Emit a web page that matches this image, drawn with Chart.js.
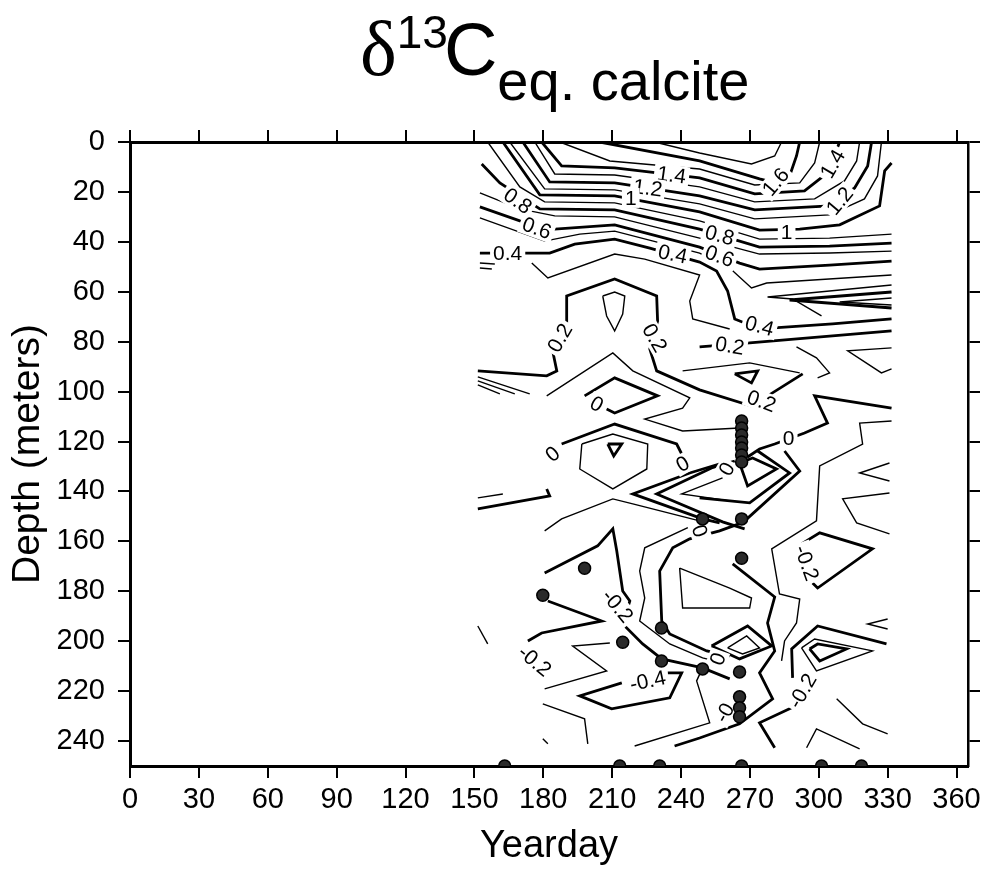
<!DOCTYPE html>
<html>
<head>
<meta charset="utf-8">
<title>d13C eq. calcite</title>
<script src="https://cdn.jsdelivr.net/npm/chart.js@4.4.1/dist/chart.umd.min.js"></script>
<style>
  html, body { margin: 0; padding: 0; background: #fff; }
  #wrap { width: 986px; height: 869px; }
</style>
</head>
<body>
<div id="wrap"><canvas id="chart" width="986" height="869"></canvas></div>
<script>
const xTicks = [0, 30, 60, 90, 120, 150, 180, 210, 240, 270, 300, 330, 360];
const yTicks = [0, 20, 40, 60, 80, 100, 120, 140, 160, 180, 200, 220, 240];

// sampling stations: yearday / depth
const sampleDay = [266.4, 266.4, 266.4, 266.4, 266.4, 266.4, 266.4, 249.4, 266.4, 266.4, 198, 179.8,
  214.6, 231.5, 231.5, 249.4, 265.5, 265.5, 265.5, 265.5, 163.2, 213.3, 230.7, 266.4, 301.2, 318.6];
const sampleDepth = [111.8, 114.6, 117.4, 120.2, 122.6, 125.4, 128.2, 151, 151, 166.8, 170.8, 181.6,
  200.4, 194.7, 207.9, 211.1, 212.3, 222.3, 226.7, 230.3, 250, 250, 250, 250, 250, 250];

// contour lines as [yearday, depth] pairs
// upper layer, labelled levels (thick)
const c16 = [[204.6,0],[248.1,7.6],[274.2,14.8],[281.2,16.4],[287.3,13.6],[290.3,5.6],[291.7,0]];
const c14 = [[179.3,0],[188,9.6],[211.1,10.4],[248.1,14.4],[272.1,20.8],[293.8,19.6],[303.8,12.4],[309.1,0]];
const c12 = [[171.1,0],[182.8,16],[211.1,16.4],[248.1,21.6],[272.1,27.2],[304.7,25.6],[315.6,18.4],[321.3,9.6],[323,0]];
const c10 = [[162.4,0],[178.5,21.2],[211.1,21.6],[248.1,28],[274.2,35.3],[291.7,34.9],[309.1,33.2],[326.5,25.6],[328.7,11.6],[331.7,8.4]];
const c08 = [[153.2,8.8],[161.1,16.4],[178.5,26.8],[211.1,27.2],[248.1,34.9],[274.2,42.1],[304.7,41.7],[331.7,40.5]];
const c06 = [[152.4,26],[169.8,31.6],[185,34.9],[211.1,33.2],[248.1,42.1],[265.5,48.5],[274.2,50.9],[304.7,49.3],[331.7,47.7]];
const c04 = [[152.4,44.5],[182.8,44.5],[193.7,40.9],[211.1,38.9],[226.4,42.5],[248.1,48.1],[255.5,51.7],[260.3,59.7],[263.4,70.9],[274.2,74.9],[306,72.9],[331.7,70.9]];
// upper layer, intermediate levels (thin)
const c17 = [[228.5,0],[248.1,4.4],[270.7,8.8],[280.8,5.6],[283.8,0]];
const c15 = [[187.2,0],[209,7.6],[248.1,10.8],[272.1,17.2],[291.7,16.4],[298.2,8.4],[300.4,0]];
const c13 = [[176.3,0],[185,12.8],[211.1,13.2],[248.1,18],[272.1,24],[298.2,22.8],[311.2,15.6],[316.5,7.6],[317.8,0]];
const c11 = [[165.4,0],[180.6,18.8],[211.1,19.2],[248.1,24.8],[272.1,30.8],[304.7,29.2],[319.9,22.8],[325.6,13.6],[327.3,0]];
const c09 = [[155.8,0],[169.8,18],[180.6,24],[211.1,24.4],[248.1,31.6],[274.2,38.9],[304.7,38.5],[331.7,36.9]];
const c07 = [[152.4,20.4],[169.8,26.8],[185,29.6],[211.1,30],[248.1,38.5],[274.2,44.9],[304.7,44.5],[331.7,43.7]];
const c05 = [[152.4,30.4],[180.6,39.7],[195.9,36.9],[211.1,35.7],[248.1,44.5],[261.2,50.5],[270.7,58.5],[277.3,56.5],[331.7,53.3]];
const c03a = [[152.4,48.5],[158.9,48.9]];
const c03b = [[152.4,50.5],[157.6,50.9]];
const c03c = [[175,48.5],[182,54.5],[211.1,44.9],[224.2,46.9],[248.1,53.3],[243.8,63.7],[245.1,70.9],[261.2,74.9]];
const wedgeA = [[331.7,57.3],[277.7,62.1],[288.6,62.9],[301.2,69.7]];
const wedgeC = [[331.7,62.5],[309.1,64.1],[331.7,65.3]];
// middle layer
const wedgeB = [[331.7,60.1],[287.3,63.3],[331.7,66.5]];
const c02a = [[151.5,91.7],[181.5,93.7],[185.9,91.7],[184.1,83.7],[190.2,72.9],[190.2,61.7],[211.1,54.9],[229.4,61.7],[229.8,71.7],[226.4,82.9],[229.4,91.7],[248.1,99.3],[270.7,105.8],[293,92.9]];
const c02b = [[248.1,82.1],[269.9,80.5],[331.7,75.7]];
const loop03 = [[205.9,61.7],[211.1,60.1],[215.5,61.7],[214.6,68.9],[211.1,75.7],[207.6,69.7],[205.9,61.7]];
const c01a = [[181.5,101.7],[210.3,84.5],[219,91.7],[243.8,102.5],[240.7,106.6],[224.2,111],[240.7,115.8],[265.5,114.6]];
const c03d = [[240.7,91.7],[269.9,88.5],[291.7,92.5]];
const tri1 = [[263.4,92.9],[273.4,91.7],[270.7,96.5],[263.4,92.9]];
const thinA = [[290.3,82.1],[299,86.5],[304.7,92.5],[299.5,94.5]];
const wedgeD = [[331.7,82.5],[312.6,83.7],[327.3,92.5],[331.7,90.9]];
const left1 = [[151.5,94.1],[174.1,100.9]];
const left2 = [[151.5,95.7],[167.6,100.9]];
const left3 = [[151.5,97.3],[161.1,100.9]];
const z1 = [[207.6,107],[211.1,108.6],[229.8,101.7],[211.1,94.5],[198,101.7]];
const z2 = [[188,121],[211.1,113],[238.1,121],[240.3,125]];
const hex = [[196.8,121],[210.3,117],[225.5,121],[225.1,131],[210.3,139],[195.9,131],[196.8,121]];
const tri2 = [[208.1,121],[214.2,121],[210.7,125.8],[208.1,121]];
const s1 = [[151.5,142.6],[162.4,141]];
const s2 = [[151.5,147],[182.8,141.8],[181.5,139]];
const xline = [[180.6,155.8],[188,151],[210.3,143],[219,145],[248.1,151.8]];
const t5 = [[258.1,128.6],[243.8,132.6],[219,141],[249.4,151],[256.8,152.6]];
const t6 = [[263.4,127.8],[253.3,130.6],[229.4,141],[258.1,152.2],[267.7,155]];
const t7 = [[258.1,134.6],[240.3,141],[261.2,143.8]];
const t1 = [[331.7,106.6],[298.2,101.7],[303.8,112.6],[293.8,116.6],[280.8,121],[274.2,123],[269,126.2]];
const t2 = [[285.1,123.8],[291.7,131.8],[266.8,152.6]];
const t3 = [[265.5,128.6],[271.2,126.6],[281.6,131],[269,137.8],[265.5,128.6]];
const t4 = [[248.1,142.6],[269.9,144.6],[287.3,132.6],[273.4,123.8]];
const t10 = [[331.7,111.8],[317.8,112.6],[319.1,121],[300.4,129.8],[299,151.8],[279.5,163],[282.9,181.1],[291.7,183.1],[290.3,192.7],[285.1,199.9],[283.8,207.9]];
const r7 = [[330.8,128.6],[317.8,132.6],[330.8,135.8]];
const r8 = [[330.8,140.6],[310.4,143],[316.5,152.6],[330.8,157]];
const q1 = [[292.5,161],[300.4,156.6],[323.4,163],[299.5,178.7],[297.3,176.7]];
// lower layer
const t9 = [[262.5,169],[280.8,182.3],[277.7,192.7],[280.8,203.9],[274.2,212.7],[279.9,223.1],[265.5,233.1],[248.1,238.8],[237.2,242]];
const t11 = [[239.4,170.7],[261.2,178.7],[270.7,182.7],[269.9,186.7],[240.7,186.7],[239.4,170.7]];
const t12 = [[244.6,153.8],[224.2,162.6],[222,171.9],[224.2,182.7],[222,191.9],[235.1,201.1],[249.4,206.7],[258.1,208.7]];
const t13 = [[266.4,152.6],[256.8,155.8],[243.8,159],[236.4,162.6],[230.7,171.9],[231.6,191.9],[235.1,197.1],[251.2,203.9],[261.2,205.9]];
const m1 = [[180.6,172.7],[203.7,161.8],[210.3,155],[212,163.8],[214.6,179.9],[217.7,183.9],[214.6,193.1],[223.3,201.1],[231.6,207.1],[249.4,210.7],[261.2,215.1]];
const m2 = [[182,183.9],[205.5,191.9],[179.3,196.7],[173.3,199.9]];
const m3 = [[209,200.7],[192.8,201.9],[207.6,211.9],[180.6,219.1]];
const m4 = [[214.2,216.7],[195.9,221.9],[209.8,227.1],[235.1,222.7],[240.3,212.7],[234.2,212.7]];
const m5 = [[179.8,225.1],[198,231.1],[199.4,241.1]];
const m6 = [[179.8,239.1],[182,241.1]];
const m7 = [[151.5,193.9],[155.8,201.1]];
const m8 = [[219.8,242],[252.5,232.7],[246.8,215.9],[249.4,210.7]];
const vee = [[288.2,226.7],[274.2,232.7],[280.8,242.7]];
const r1 = [[288.6,214.7],[288.2,203.1],[299.5,193.9],[329.5,201.1]];
const r2 = [[292.5,202.7],[298.2,199.1],[323.4,203.9],[299,211.9],[292.5,202.7]];
const r3 = [[296,203.1],[299.5,201.1],[312.1,203.1],[300.4,207.9],[296,203.1]];
const r4 = [[307.8,223.1],[319.1,233.1],[330,237.1]];
const r5 = [[294.7,242.7],[299,235.1],[317.8,243.1]];
const r6 = [[330,191.1],[321.3,193.1],[330,195.1]];
const p1 = [[253.3,201.9],[269,193.9],[279.5,201.9],[265.5,207.1],[253.3,201.9]];
const p2 = [[260.3,202.7],[268.6,197.9],[274.2,202.7],[266.8,205.1],[260.3,202.7]];

const thickLines = [c16, c14, c12, c10, c08, c06, c04, wedgeB, c02a, c02b, tri1, z1, z2, tri2, s2,
  t5, t6, t1, t2, t3, t4, q1, t9, t13, m1, m2, m4, vee, r1, r3, p1];
const thinLines = [c17, c15, c13, c11, c09, c07, c05, c03a, c03b, c03c, wedgeA, wedgeC, loop03, c01a,
  c03d, thinA, wedgeD, left1, left2, left3, hex, s1, xline, t7, t10, r7, r8, t11, t12, m3, m5, m6, m7,
  m8, r2, r4, r5, r6, p2];

// contour labels
const labelText  = ['1.4', '1.2', '1', '0.8', '0.6', '0.4', '0.4', '0.8', '0.6', '1', '1.6', '1.4', '1.2',
  '0.4', '0.2', '0.2', '0.2', '0.2', '0', '0', '0', '0', '0', '0', '-0.2', '-0.2', '-0.4', '0', '-0', '-0.2', '-0.2'];
const labelDay   = [235.9, 225.5, 218.1, 168.9, 177.2, 164.5, 236.4, 256.8, 256.8, 286, 281.2, 306, 309.1,
  274.2, 261.2, 187.2, 228.5, 275.1, 203.3, 184.1, 240.7, 286.9, 259.9, 248.1, 212.4, 176.3, 225.5, 256, 259, 292.9, 294.7];
const labelDepth = [13.2, 18.4, 22.4, 23.6, 34.5, 44.5, 44.9, 37.3, 45.7, 36.1, 16, 8.8, 23.6,
  73.7, 81.7, 78.5, 78.5, 103.8, 105, 125, 129, 118.6, 131, 155.8, 185.9, 207.9, 215.9, 207.1, 228.7, 219.9, 168.6];
const labelAngle = [8, 8, 0, 35, 20, 0, 12, 15, 20, 0, -50, -60, -50,
  15, 10, -60, 60, 20, 30, -40, -30, 0, -60, 70, 50, 40, -12, -70, -60, -60, 70];

const FONT = '"Liberation Sans", Arial, Helvetica, sans-serif';

function lineSet(pts, w) {
  return {
    data: pts.map(p => ({ x: p[0], y: p[1] })),
    showLine: true,
    borderColor: '#000',
    borderWidth: w,
    pointRadius: 0,
    pointHoverRadius: 0,
    fill: false,
    tension: 0
  };
}

const datasets = [{
  data: sampleDay.map((d, i) => ({ x: d, y: sampleDepth[i] })),
  showLine: false,
  pointRadius: 6,
  pointBackgroundColor: '#2a2a2a',
  pointBorderColor: '#000',
  pointBorderWidth: 1.5
}];
thickLines.forEach(l => datasets.push(lineSet(l, 2.8)));
thinLines.forEach(l => datasets.push(lineSet(l, 1.4)));

const contourLabels = {
  id: 'contourLabels',
  afterDatasetDraw(chart, args) {
    if (args.index !== 1) return;
    const ctx = chart.ctx;
    const xs = chart.scales.x, ys = chart.scales.y;
    ctx.save();
    ctx.font = '21px ' + FONT;
    ctx.textAlign = 'center';
    ctx.textBaseline = 'middle';
    labelText.forEach((t, i) => {
      const px = xs.getPixelForValue(labelDay[i]);
      const py = ys.getPixelForValue(labelDepth[i]);
      ctx.save();
      ctx.translate(px, py);
      ctx.rotate(labelAngle[i] * Math.PI / 180);
      const w = ctx.measureText(t).width;
      ctx.fillStyle = '#fff';
      ctx.fillRect(-w / 2 - 3, -10, w + 6, 20);
      ctx.fillStyle = '#000';
      ctx.fillText(t, 0, 1);
      ctx.restore();
    });
    ctx.restore();
  }
};

const titleText = {
  id: 'titleText',
  afterDraw(chart) {
    const ctx = chart.ctx;
    ctx.save();
    ctx.fillStyle = '#000';
    ctx.textBaseline = 'alphabetic';
    ctx.textAlign = 'left';
    let x = 360;
    ctx.font = '78px "Liberation Serif", "Times New Roman", serif';
    ctx.fillText('δ', x, 75);
    x += ctx.measureText('δ').width;
    ctx.font = '46px ' + FONT;
    ctx.fillText('13', x, 48);
    x += ctx.measureText('13').width - 4;
    ctx.font = '74px ' + FONT;
    ctx.fillText('C', x, 75);
    x += ctx.measureText('C').width;
    ctx.font = '56px ' + FONT;
    ctx.fillText('eq. calcite', x, 100);
    ctx.restore();
  }
};

const tickGrid = { drawOnChartArea: false, drawTicks: true, tickLength: 12, color: '#000', lineWidth: 2 };

new Chart(document.getElementById('chart'), {
  type: 'scatter',
  data: { datasets: datasets },
  plugins: [contourLabels, titleText],
  options: {
    responsive: false,
    animation: false,
    events: [],
    layout: { padding: 0 },
    plugins: { legend: { display: false }, tooltip: { enabled: false } },
    scales: {
      x: {
        type: 'linear', position: 'bottom', min: 0, max: 365,
        afterBuildTicks: a => { a.ticks = xTicks.map(v => ({ value: v })); },
        afterFit: a => { a.height = 103; },
        grid: tickGrid,
        border: { display: true, color: '#000', width: 3 },
        ticks: { color: '#000', padding: 5, maxRotation: 0, font: { family: FONT, size: 29 } },
        title: { display: true, text: 'Yearday', color: '#000', padding: { top: 0, bottom: 0 }, font: { family: FONT, size: 38 } }
      },
      x2: {
        type: 'linear', position: 'top', min: 0, max: 365,
        afterBuildTicks: a => { a.ticks = xTicks.map(v => ({ value: v })); },
        afterFit: a => { a.height = 142; },
        grid: tickGrid,
        border: { display: true, color: '#000', width: 3 },
        ticks: { display: false }
      },
      y: {
        type: 'linear', position: 'left', min: 0, max: 250, reverse: true,
        afterBuildTicks: a => { a.ticks = yTicks.map(v => ({ value: v })); },
        afterFit: a => { a.width = 130; },
        grid: tickGrid,
        border: { display: true, color: '#000', width: 3 },
        ticks: { color: '#000', padding: 13, font: { family: FONT, size: 29 } },
        title: { display: true, text: 'Depth (meters)', color: '#000', padding: { top: 5, bottom: 0 }, font: { family: FONT, size: 39 } }
      },
      y2: {
        type: 'linear', position: 'right', min: 0, max: 250, reverse: true,
        afterBuildTicks: a => { a.ticks = yTicks.map(v => ({ value: v })); },
        afterFit: a => { a.width = 18; },
        grid: tickGrid,
        border: { display: true, color: '#000', width: 2.5 },
        ticks: { display: false }
      }
    }
  }
});
</script>
</body>
</html>
